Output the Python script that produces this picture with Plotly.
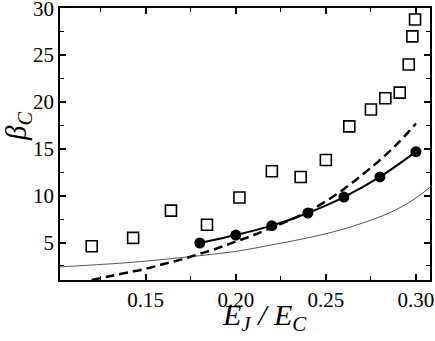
import plotly.graph_objects as go

# measured points (open squares)
sq_x = [0.120, 0.143, 0.164, 0.184, 0.202, 0.220, 0.236, 0.250, 0.263, 0.275, 0.283, 0.291, 0.296, 0.298, 0.2995]
sq_y = [4.6, 5.5, 8.4, 6.9, 9.8, 12.6, 12.0, 13.8, 17.4, 19.2, 20.4, 21.0, 24.0, 27.0, 28.8]

# filled circles with solid line
dot_x = [0.18, 0.20, 0.22, 0.24, 0.26, 0.28, 0.30]
dot_y = [4.95, 5.8, 6.8, 8.15, 9.85, 12.0, 14.7]

# dashed curve
dash_x = [0.120, 0.13, 0.14, 0.15, 0.16, 0.17, 0.18, 0.19, 0.20, 0.21, 0.22, 0.23, 0.24, 0.25,
          0.26, 0.27, 0.28, 0.29, 0.30]
dash_y = [1.0, 1.4, 1.8, 2.2, 2.7, 3.2, 3.8, 4.4, 5.1, 5.8, 6.6, 7.4, 8.3, 9.4,
          10.7, 12.2, 13.8, 15.6, 17.7]

# thin solid curve
thin_x = [0.1024, 0.12, 0.14, 0.16, 0.18, 0.20, 0.22, 0.24, 0.26, 0.28, 0.29, 0.30, 0.3078]
thin_y = [2.4, 2.6, 2.85, 3.2, 3.6, 4.05, 4.75, 5.5, 6.45, 7.75, 8.6, 9.75, 10.9]

FONT = "Liberation Serif, Times New Roman, serif"

fig = go.Figure()

fig.add_trace(go.Scatter(
    x=thin_x, y=thin_y, mode='lines', line_shape='spline',
    line=dict(color='#444444', width=0.9)
))
fig.add_trace(go.Scatter(
    x=dash_x, y=dash_y, mode='lines', line_shape='spline',
    line=dict(color='black', width=2.5, dash='9px,5px')
))
fig.add_trace(go.Scatter(
    x=dot_x, y=dot_y, mode='lines+markers', line_shape='spline',
    line=dict(color='black', width=2),
    marker=dict(symbol='circle', size=11, color='black')
))
fig.add_trace(go.Scatter(
    x=sq_x, y=sq_y, mode='markers',
    marker=dict(symbol='square-open', size=11, color='black', line=dict(width=1.6))
))

axis_common = dict(
    showline=True, linecolor='black', linewidth=1.8, mirror='ticks',
    ticks='inside', ticklen=6, tickwidth=1.5, tickcolor='black',
    showgrid=False, zeroline=False, ticklabeloverflow='allow', automargin=False,
    tickfont=dict(family=FONT, size=21, color='black'),
)

fig.update_xaxes(
    range=[0.1024, 0.3078], tickvals=[0.15, 0.20, 0.25, 0.30],
    ticktext=['0.15', '0.20', '0.25', '0.30'],
    minor=dict(tickvals=[0.125, 0.175, 0.225, 0.275], ticks='inside', ticklen=4,
               tickwidth=1.2, tickcolor='black'),
    **axis_common
)
fig.update_yaxes(
    range=[1.0, 30.03], tickvals=[5, 10, 15, 20, 25, 30],
    minor=dict(tickvals=[2.5, 7.5, 12.5, 17.5, 22.5, 27.5], ticks='inside', ticklen=4,
               tickwidth=1.2, tickcolor='black'),
    **axis_common
)

fig.add_annotation(
    text="<i>E</i><sub><i>J</i></sub><i> / E</i><sub><i>C</i></sub>",
    xref='paper', yref='paper', x=0.553, y=-0.06, xanchor='center', yanchor='top',
    showarrow=False, font=dict(family=FONT, size=30, color='black')
)
fig.add_annotation(
    text="<i>β</i><sub><i>C</i></sub>",
    xref='paper', yref='paper', x=-0.112, y=0.565, xanchor='center', yanchor='middle',
    textangle=-90, showarrow=False, font=dict(family=FONT, size=29, color='black')
)

fig.update_layout(
    width=435, height=341,
    margin=dict(l=60, r=5, t=8, b=61),
    showlegend=False,
    plot_bgcolor='white', paper_bgcolor='white',
)

# page body has a default 8px margin; remove it so the figure sits at 0,0
fig.write_html("out.html", config={'displayModeBar': False},
               post_script="document.body.style.margin='0';")
